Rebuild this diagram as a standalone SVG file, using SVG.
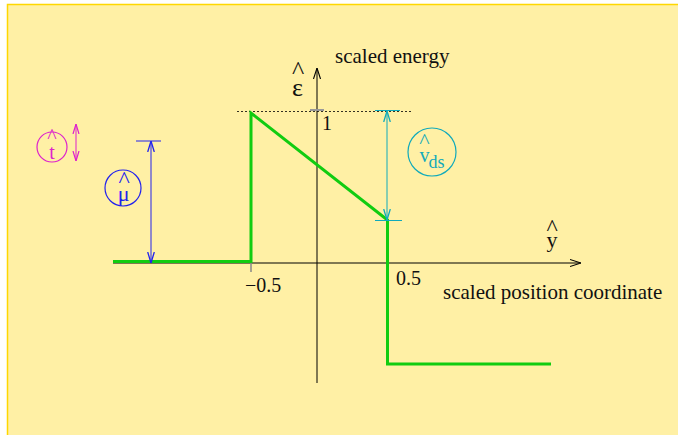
<svg xmlns="http://www.w3.org/2000/svg" width="678" height="435" viewBox="0 0 678 435">
<defs>
<style>
text{font-family:"Liberation Serif","Times New Roman",serif;}
.ax{stroke:#000;stroke-width:1;fill:none}
.gr{stroke:#11cc11;stroke-width:3;fill:none}
.lbl{fill:#111}
</style>
<marker id="ak" viewBox="0 0 10 10" refX="10" refY="5" markerWidth="11" markerHeight="11" orient="auto" markerUnits="userSpaceOnUse"><path d="M0,1.8 L10,5 L0,8.2" fill="none" stroke="#000" stroke-width="1"/></marker>
<marker id="ab" viewBox="0 0 10 10" refX="10" refY="5" markerWidth="11" markerHeight="11" orient="auto-start-reverse" markerUnits="userSpaceOnUse"><path d="M0,2 L10,5 L0,8" fill="none" stroke="#2222ee" stroke-width="1.2"/></marker>
<marker id="ac" viewBox="0 0 10 10" refX="10" refY="5" markerWidth="11" markerHeight="11" orient="auto-start-reverse" markerUnits="userSpaceOnUse"><path d="M0,2 L10,5 L0,8" fill="none" stroke="#11aabb" stroke-width="1.2"/></marker>
<marker id="am" viewBox="0 0 10 10" refX="10" refY="5" markerWidth="10" markerHeight="10" orient="auto-start-reverse" markerUnits="userSpaceOnUse"><path d="M0,2 L10,5 L0,8" fill="none" stroke="#dd22cc" stroke-width="1.2"/></marker>
</defs>
<rect x="7.5" y="4.5" width="680" height="440" fill="#fff0a5" stroke="#ffd700" stroke-width="1.5"/>
<g id="connectors">
<line class="ax" x1="317" y1="383" x2="317" y2="68" marker-end="url(#ak)"/>
<line class="ax" x1="113" y1="263" x2="581" y2="263" marker-end="url(#ak)"/>
<line x1="237" y1="111.5" x2="413" y2="111.5" stroke="#000" stroke-width="0.8" stroke-dasharray="2,2"/>
<line x1="310" y1="110" x2="324" y2="110" stroke="#999" stroke-width="2"/>
<line x1="251" y1="262" x2="251" y2="272" stroke="#888" stroke-width="1.5"/>
<polyline class="gr" points="113,261.5 251,261.5 251,113 387.5,220 387.5,364 551,364"/>
<line x1="151" y1="141" x2="151" y2="263" stroke="#2222ee" stroke-width="1" marker-start="url(#ab)" marker-end="url(#ab)"/>
<line x1="136" y1="141" x2="161" y2="141" stroke="#2222ee" stroke-width="1"/>
<line x1="387" y1="111" x2="387" y2="220" stroke="#11aabb" stroke-width="1" marker-start="url(#ac)" marker-end="url(#ac)"/>
<line x1="375" y1="110.5" x2="400" y2="110.5" stroke="#11aabb" stroke-width="1"/>
<line x1="375" y1="220.5" x2="402" y2="220.5" stroke="#11aabb" stroke-width="1"/>
<line x1="76" y1="124" x2="76" y2="161" stroke="#dd22cc" stroke-width="1" marker-start="url(#am)" marker-end="url(#am)"/>
</g>
<g id="labels">
<text class="lbl" x="335" y="63" font-size="21">scaled energy</text>
<text class="lbl"><tspan x="292" y="79" font-size="26">^</tspan><tspan x="292" y="96" font-size="26">ε</tspan></text>
<text class="lbl" x="322" y="130" font-size="20">1</text>
<text class="lbl"><tspan x="546.5" y="235" font-size="24">^</tspan><tspan x="546.5" y="247" font-size="22">y</tspan></text>
<text class="lbl" x="245" y="292" font-size="20">−0.5</text>
<text class="lbl" x="396" y="285" font-size="20">0.5</text>
<text class="lbl" x="443" y="299" font-size="21">scaled position coordinate</text>
</g>
<g id="node-mu">
<circle cx="123" cy="188" r="18" fill="none" stroke="#2222ee" stroke-width="1.2"/>
<text fill="#2222ee"><tspan x="118.4" y="187" font-size="24">^</tspan><tspan x="117.7" y="201" font-size="22">μ</tspan></text>
</g>
<g id="node-vds">
<circle cx="432" cy="152" r="24" fill="none" stroke="#11aabb" stroke-width="1.2"/>
<text fill="#11aabb"><tspan x="419.3" y="148" font-size="22">^</tspan><tspan x="419.5" y="162" font-size="20">v</tspan><tspan x="428.5" y="168" font-size="18">ds</tspan></text>
</g>
<g id="node-t">
<circle cx="52" cy="147" r="15" fill="none" stroke="#dd22cc" stroke-width="1.2"/>
<text fill="#dd22cc"><tspan x="47.3" y="143" font-size="20">^</tspan><tspan x="49.2" y="159" font-size="20">t</tspan></text>
</g>
</svg>
